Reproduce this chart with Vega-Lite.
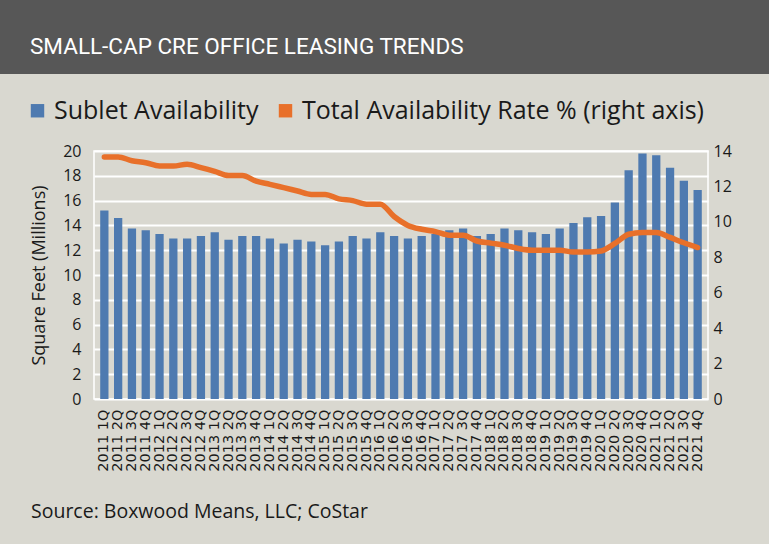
{
  "$schema": "https://vega.github.io/schema/vega-lite/v6.json",
  "background": "#d9d8d0",
  "padding": {"left": 0, "top": 0, "right": 0, "bottom": 22},
  "spacing": 0,
  "columns": 1,
  "align": "none",
  "bounds": "full",
  "center": false,
  "resolve": {"scale": {"color": "independent"}, "legend": {"color": "independent"}},
  "config": {"view": {"stroke": null}, "font": "Open Sans"},
  "concat": [
    {
      "width": 769,
      "height": 74,
      "view": {"fill": "#575757", "stroke": null},
      "data": {"values": [{}]},
      "mark": {"type": "rect", "color": "#575757"},
      "encoding": {},
      "title": {
        "text": "SMALL-CAP CRE OFFICE LEASING TRENDS",
        "orient": "top",
        "anchor": "start",
        "frame": "group",
        "offset": -76,
        "baseline": "alphabetic",
        "dx": 30,
        "color": "#ffffff",
        "font": "Roboto",
        "fontSize": 22.5,
        "fontWeight": "normal"
      }
    },
    {
      "spacing": 0,
      "resolve": {"scale": {"color": "independent"}, "legend": {"color": "independent"}},
      "hconcat": [
        {
          "width": 1,
          "height": 1,
          "data": {"values": []},
          "mark": "point",
          "encoding": {}
        },
        {
          "width": 614,
          "height": 248,
          "view": {"stroke": "#ffffff", "strokeWidth": 1.5},
          "title": {
            "text": "Source: Boxwood Means, LLC; CoStar",
            "orient": "bottom",
            "anchor": "start",
            "frame": "group",
            "offset": 32,
            "dx": -63,
            "color": "#1a1a1a",
            "font": "Open Sans",
            "fontSize": 19.5,
            "fontWeight": "normal"
          },
          "data": {
            "values": [
              {"q": "2011 1Q", "sublet": 15.2, "rate": 13.66},
              {"q": "2011 2Q", "sublet": 14.6, "rate": 13.66},
              {"q": "2011 3Q", "sublet": 13.75, "rate": 13.45},
              {"q": "2011 4Q", "sublet": 13.6, "rate": 13.34},
              {"q": "2012 1Q", "sublet": 13.3, "rate": 13.15},
              {"q": "2012 2Q", "sublet": 12.95, "rate": 13.15},
              {"q": "2012 3Q", "sublet": 12.95, "rate": 13.25},
              {"q": "2012 4Q", "sublet": 13.15, "rate": 13.06},
              {"q": "2013 1Q", "sublet": 13.45, "rate": 12.85},
              {"q": "2013 2Q", "sublet": 12.85, "rate": 12.62},
              {"q": "2013 3Q", "sublet": 13.15, "rate": 12.62},
              {"q": "2013 4Q", "sublet": 13.15, "rate": 12.3},
              {"q": "2014 1Q", "sublet": 12.95, "rate": 12.12},
              {"q": "2014 2Q", "sublet": 12.55, "rate": 11.93},
              {"q": "2014 3Q", "sublet": 12.85, "rate": 11.74},
              {"q": "2014 4Q", "sublet": 12.7, "rate": 11.55},
              {"q": "2015 1Q", "sublet": 12.4, "rate": 11.55},
              {"q": "2015 2Q", "sublet": 12.7, "rate": 11.3},
              {"q": "2015 3Q", "sublet": 13.15, "rate": 11.2},
              {"q": "2015 4Q", "sublet": 12.95, "rate": 11.0},
              {"q": "2016 1Q", "sublet": 13.45, "rate": 11.0},
              {"q": "2016 2Q", "sublet": 13.15, "rate": 10.3},
              {"q": "2016 3Q", "sublet": 12.95, "rate": 9.8},
              {"q": "2016 4Q", "sublet": 13.15, "rate": 9.58},
              {"q": "2017 1Q", "sublet": 13.3, "rate": 9.45},
              {"q": "2017 2Q", "sublet": 13.6, "rate": 9.25},
              {"q": "2017 3Q", "sublet": 13.75, "rate": 9.25},
              {"q": "2017 4Q", "sublet": 13.15, "rate": 8.92},
              {"q": "2018 1Q", "sublet": 13.3, "rate": 8.8},
              {"q": "2018 2Q", "sublet": 13.75, "rate": 8.68},
              {"q": "2018 3Q", "sublet": 13.6, "rate": 8.5},
              {"q": "2018 4Q", "sublet": 13.45, "rate": 8.4},
              {"q": "2019 1Q", "sublet": 13.3, "rate": 8.4},
              {"q": "2019 2Q", "sublet": 13.75, "rate": 8.4},
              {"q": "2019 3Q", "sublet": 14.2, "rate": 8.3},
              {"q": "2019 4Q", "sublet": 14.65, "rate": 8.3},
              {"q": "2020 1Q", "sublet": 14.75, "rate": 8.36},
              {"q": "2020 2Q", "sublet": 15.85, "rate": 8.78},
              {"q": "2020 3Q", "sublet": 18.45, "rate": 9.3},
              {"q": "2020 4Q", "sublet": 19.8, "rate": 9.4},
              {"q": "2021 1Q", "sublet": 19.65, "rate": 9.4},
              {"q": "2021 2Q", "sublet": 18.65, "rate": 9.12},
              {"q": "2021 3Q", "sublet": 17.6, "rate": 8.82},
              {"q": "2021 4Q", "sublet": 16.85, "rate": 8.55}
            ]
          },
          "encoding": {
            "x": {
              "field": "q",
              "type": "ordinal",
              "sort": null,
              "scale": {"paddingInner": 0.4, "paddingOuter": 0.45},
              "axis": {
                "title": null,
                "labelAngle": 270,
                "labelFont": "DejaVu Sans",
                "labelFontSize": 14.5,
                "labelColor": "#1a1a1a",
                "labelPadding": 10,
                "labelOverlap": false,
                "ticks": false,
                "domain": false,
                "grid": false
              }
            }
          },
          "layer": [
            {
              "mark": {"type": "bar", "color": "#4e7ab0"},
              "encoding": {
                "y": {
                  "field": "sublet",
                  "type": "quantitative",
                  "scale": {"domain": [0, 20], "nice": false},
                  "axis": {
                    "title": "Square Feet (Millions)",
                    "titleFontSize": 18,
                    "titleFontWeight": "normal",
                    "titleColor": "#1a1a1a",
                    "titlePadding": 14,
                    "values": [0, 2, 4, 6, 8, 10, 12, 14, 16, 18, 20],
                    "labelFontSize": 16,
                    "labelColor": "#1a1a1a",
                    "labelPadding": 13,
                    "ticks": false,
                    "domain": false,
                    "grid": true,
                    "gridColor": "#ffffff",
                    "gridWidth": 2,
                    "gridOpacity": 1
                  }
                },
                "color": {
                  "datum": "Sublet Availability",
                  "type": "nominal",
                  "scale": {
                    "domain": ["Sublet Availability", "Total Availability Rate % (right axis)"],
                    "range": ["#4e7ab0", "#e8702a"]
                  },
                  "legend": {
                    "title": null,
                    "orient": "none",
                    "legendX": -92,
                    "legendY": -76,
                    "direction": "horizontal",
                    "padding": 23,
                    "symbolOffset": 0,
                    "symbolType": "square",
                    "symbolSize": 180,
                    "labelFontSize": 25,
                    "labelColor": "#1a1a1a",
                    "labelOffset": 4,
                    "columnPadding": 14,
                    "labelLimit": 500,
                    "encode": {
                      "symbols": {
                        "update": {
                          "fill": {"scale": "color", "field": "value"},
                          "strokeWidth": {"value": 0},
                          "opacity": {"value": 1}
                        }
                      }
                    }
                  }
                }
              }
            },
            {
              "mark": {"type": "line", "color": "#e8702a", "strokeWidth": 5.5, "interpolate": "monotone", "strokeCap": "round"},
              "encoding": {
                "y": {
                  "field": "rate",
                  "type": "quantitative",
                  "scale": {"domain": [0, 14], "nice": false},
                  "axis": {
                    "orient": "right",
                    "title": null,
                    "values": [0, 2, 4, 6, 8, 10, 12, 14],
                    "labelFontSize": 16,
                    "labelColor": "#1a1a1a",
                    "labelPadding": 5,
                    "ticks": false,
                    "domain": false,
                    "grid": false
                  }
                },
                "color": {"datum": "Total Availability Rate % (right axis)", "type": "nominal"}
              }
            }
          ],
          "resolve": {"scale": {"y": "independent"}}
        }
      ]
    }
  ]
}
